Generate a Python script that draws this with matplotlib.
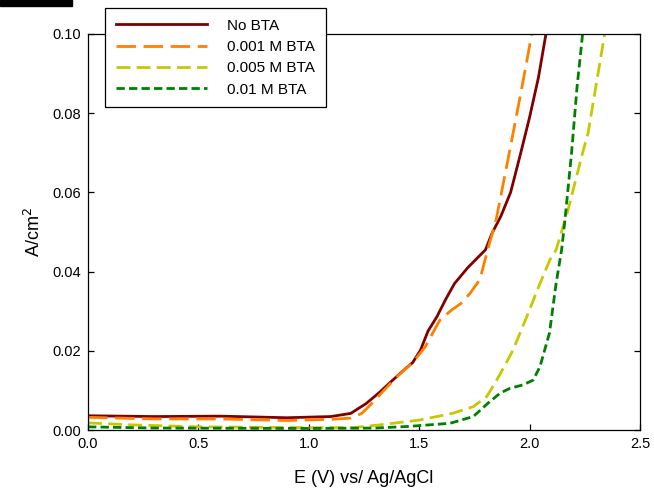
import numpy as np
import matplotlib
matplotlib.use("Agg")
from matplotlib import pyplot as plt
from matplotlib.patches import Rectangle

plt.rcParams['font.family'] = ['Liberation Sans', 'DejaVu Sans']
plt.rcParams['lines.scale_dashes'] = False

# data (E in V, current density in A/cm2)
e_none = [0.0, 0.3, 0.6, 0.9, 1.1, 1.19, 1.26, 1.32, 1.38, 1.44, 1.47, 1.506, 1.54, 1.58,
          1.62, 1.66, 1.72, 1.80, 1.83, 1.87, 1.914, 1.96, 2.0, 2.04, 2.074]
j_none = [0.0036, 0.0034, 0.0035, 0.0031, 0.0034, 0.0042, 0.0067, 0.0095, 0.0126, 0.0156,
          0.017, 0.0202, 0.025, 0.0286, 0.033, 0.037, 0.041, 0.0455, 0.0497, 0.054, 0.060,
          0.070, 0.079, 0.089, 0.100]

e_001 = [0.0, 0.3, 0.6, 0.9, 1.1, 1.19, 1.24, 1.285, 1.34, 1.40, 1.47, 1.527, 1.594, 1.647,
         1.69, 1.73, 1.775, 1.81, 1.848, 1.908, 1.96, 2.01]
j_001 = [0.0032, 0.0028, 0.0028, 0.0024, 0.0027, 0.003, 0.0042, 0.0067, 0.0100, 0.0135,
         0.017, 0.021, 0.0278, 0.0303, 0.032, 0.0345, 0.038, 0.0455, 0.053, 0.070, 0.085, 0.100]

e_005 = [0.0, 0.2, 0.5, 1.0, 1.2, 1.32, 1.50, 1.65, 1.745, 1.805, 1.843, 1.885, 1.925,
         1.987, 2.047, 2.092, 2.12, 2.17, 2.24, 2.265, 2.30, 2.34]
j_005 = [0.0018, 0.0013, 0.0008, 0.0006, 0.0006, 0.0013, 0.0025, 0.0042, 0.0059, 0.0084,
         0.0118, 0.016, 0.0202, 0.0286, 0.037, 0.043, 0.0455, 0.0547, 0.070, 0.075, 0.0867, 0.100]

e_01 = [0.0, 0.3, 1.0, 1.3, 1.45, 1.64, 1.745, 1.81, 1.866, 1.91, 1.97, 2.016, 2.047, 2.09,
        2.12, 2.145, 2.16, 2.19, 2.215, 2.24]
j_01 = [0.0008, 0.0005, 0.0004, 0.0005, 0.0009, 0.0017, 0.0034, 0.0067, 0.0093, 0.0105,
        0.0114, 0.0126, 0.016, 0.0245, 0.037, 0.0455, 0.053, 0.070, 0.0867, 0.100]

labels = ['No BTA', '0.001 M BTA', '0.005 M BTA', '0.01 M BTA']

fig = plt.figure(figsize=(6.54, 4.91), dpi=100)
ax = fig.add_axes([0.1346, 0.1242, 0.8440, 0.8066])

lw = 2.0
ax.plot(e_none, j_none, color='#800000', lw=lw, label=labels[0])
ax.plot(e_001, j_001, color='#ff8000', lw=lw, dashes=(14, 5.5), label=labels[1])
ax.plot(e_005, j_005, color='#c8c800', lw=lw, dashes=(10, 4.5), label=labels[2])
ax.plot(e_01, j_01, color='#008000', lw=lw, dashes=(6, 3), label=labels[3])

ax.set_xlim(0, 2.5)
ax.set_ylim(0, 0.1)
ax.set_xticks(np.arange(0, 2.51, 0.5))
ax.set_yticks(np.arange(0, 0.101, 0.02))
ax.xaxis.set_major_formatter(matplotlib.ticker.FormatStrFormatter('%.1f'))
ax.yaxis.set_major_formatter(matplotlib.ticker.FormatStrFormatter('%.2f'))
ax.tick_params(direction='in', length=4, width=0.9, labelsize=10.5,
               left=True, right=True, bottom=True, top=False, pad=5)
for s in ax.spines.values():
    s.set_linewidth(0.9)

ax.set_xlabel('E (V) vs/ Ag/AgCl', fontsize=13, labelpad=14)
ax.set_ylabel('A/cm$^2$', fontsize=13, labelpad=6)

leg = ax.legend(loc='upper left', bbox_to_anchor=(105 / 654, 1 - 8 / 491),
                bbox_transform=fig.transFigure, fontsize=11, frameon=True,
                fancybox=False, edgecolor='black', framealpha=1,
                handlelength=6.0, handletextpad=1.3, labelspacing=0.48,
                borderpad=0.7, borderaxespad=0)
leg.get_frame().set_linewidth(0.9)

# black bar in the top left corner
fig.patches.append(Rectangle((0, 1 - 6 / 491), 72 / 654, 6 / 491,
                             transform=fig.transFigure, color='black'))

fig.savefig('out.png', dpi=100)
